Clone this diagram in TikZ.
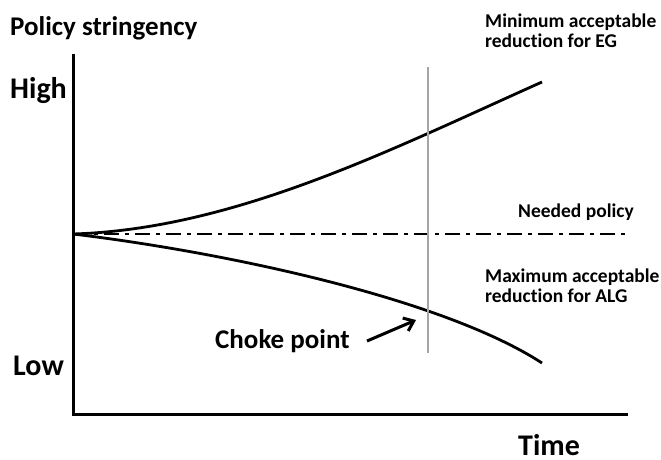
\documentclass[tikz,border=0pt]{standalone}
\usepackage{fontspec}
\setmainfont{Carlito}[Ligatures=NoCommon]
\usetikzlibrary{arrows.meta}
\begin{document}
\begin{tikzpicture}[x=1pt,y=-1pt,
  txt/.style={inner sep=0pt,anchor=base west,align=left,font=\bfseries\fontsize{#1}{20}\selectfont},
  axisline/.style={line width=3pt,line cap=rect},
  curve/.style={line width=2.8pt},
  dashdot/.style={line width=2.8pt,dash pattern=on 15pt off 6pt on 4pt off 6pt},
  grayline/.style={line width=2.6pt,draw={rgb,255:red,165;green,165;blue,165}}]
\useasboundingbox (0,0) rectangle (661,459);
% axes
\coordinate (top) at (73,55);
\coordinate (org) at (73,414);
\coordinate (xend) at (626,414);
\draw[axisline] (top) -- (org) -- (xend);
% curves
\coordinate (s) at (73,234);
\coordinate (uend) at (542,82);
\coordinate (lend) at (542,363);
\draw[curve] (s) .. controls (235,229) and (392,149) .. (uend);
\draw[curve] (s) .. controls (223,252) and (442,298) .. (lend);
\coordinate (dend) at (626,234);
\draw[dashdot] (s) -- (dend);
% choke line
\coordinate (gtop) at (428,67);
\coordinate (gbot) at (428,353);
\draw[grayline] (gtop) -- (gbot);
% texts
\node[txt=27] (ps) at (10,35) {Policy stringency};
\node[txt=30] (hi) at (10,98) {High};
\node[txt=30] (lo) at (13,375) {Low};
\node[txt=30] (tm) at (518,455) {Time};
\node[txt=19.5] (mn) at (485,47) {Minimum acceptable\\reduction for EG};
\node[txt=19.5] (np) at (518,217) {Needed policy};
\node[txt=19.5] (mx) at (485,302) {Maximum acceptable\\reduction for ALG};
\node[txt=27] (cp) at (215,348) {Choke point};
\coordinate (ae) at (416,320);
\draw[line width=3pt,-{Straight Barb[length=9pt,width=14pt,line width=3pt]}] (367,341) -- (ae);
\end{tikzpicture}
\end{document}
